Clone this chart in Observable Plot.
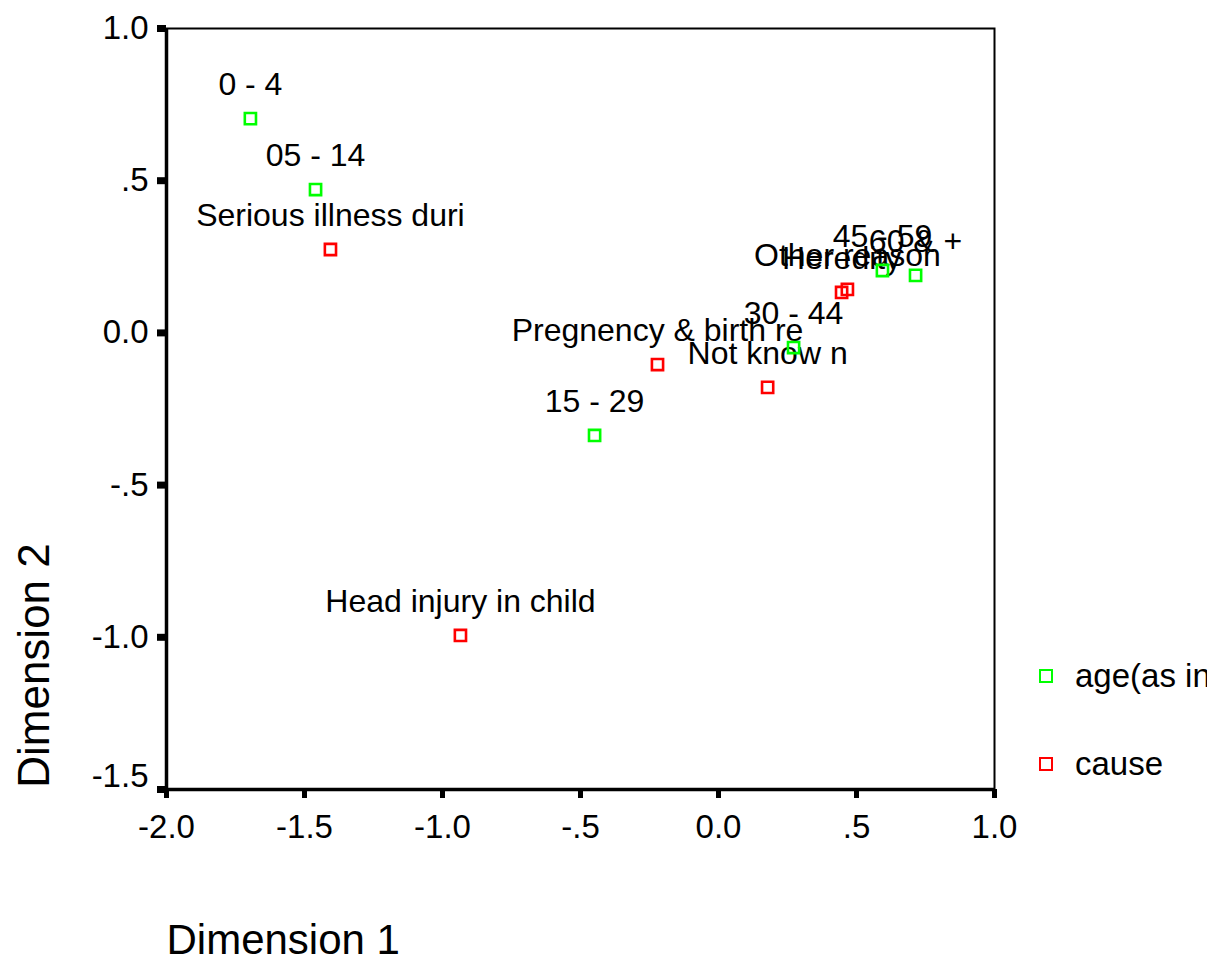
<!DOCTYPE html>
<html>
<head>
<meta charset="utf-8">
<script src="https://cdn.jsdelivr.net/npm/d3@7"></script>
<script src="https://cdn.jsdelivr.net/npm/@observablehq/plot@0.6"></script>
<style>
  html, body { margin: 0; padding: 0; background: #fff; overflow: hidden; }
  #wrap { position: relative; width: 1207px; height: 973px; overflow: hidden; font-family: "Liberation Sans", Arial, sans-serif; }
  .leg { position: absolute; left: 1039px; display: flex; align-items: center; font-size: 33px; color: #000; white-space: nowrap; }
  .sw { width: 10px; height: 10px; border: 2.5px solid; margin-right: 22px; }
</style>
</head>
<body>
<div id="wrap"></div>
<script>
const ageLabels = ["0 - 4", "05 - 14", "15 - 29", "30 - 44", "45 - 59", "60 & +"];
const ageDim1 = [-1.696, -1.46, -0.449, 0.272, 0.594, 0.714];
const ageDim2 = [0.704, 0.471, -0.337, -0.048, 0.205, 0.189];

const causeLabels = ["Serious illness duri", "Pregnency & birth re", "Not know n", "Head injury in child", "Other reason", "Heredity"];
const causeDim1 = [-1.406, -0.221, 0.178, -0.935, 0.467, 0.446];
const causeDim2 = [0.274, -0.104, -0.179, -0.994, 0.143, 0.133];

const xTicks = [-2, -1.5, -1, -0.5, 0, 0.5, 1];
const xTickLabels = ["-2.0", "-1.5", "-1.0", "-.5", "0.0", ".5", "1.0"];
const yTicks = [-1.5, -1, -0.5, 0, 0.5, 1];
const yTickLabels = ["-1.5", "-1.0", "-.5", "0.0", ".5", "1.0"];

const seriesNames = ["age(as in years)", "cause"];
const seriesColors = ["#00ff00", "#ff0000"];

const points = [
  ...ageLabels.map((l, i) => ({label: l, d1: ageDim1[i], d2: ageDim2[i], series: seriesNames[0]})),
  ...causeLabels.map((l, i) => ({label: l, d1: causeDim1[i], d2: causeDim2[i], series: seriesNames[1]}))
];

const font = "Liberation Sans, Arial, sans-serif";
const yLabel = (d) => yTickLabels[yTicks.indexOf(d)];
const yMin = yTicks[0];

const chart = Plot.plot({
  width: 1207,
  height: 973,
  marginLeft: 166,
  marginRight: 213,
  marginTop: 28,
  marginBottom: 184,
  style: {fontFamily: font, background: "#fff", overflow: "visible"},
  x: {domain: [-2, 1]},
  y: {domain: [-1.5, 1]},
  color: {domain: seriesNames, range: seriesColors},
  marks: [
    Plot.frame({stroke: "#000", strokeWidth: 2}),
    Plot.ruleX([-2], {stroke: "#000", strokeWidth: 3.5}),
    Plot.ruleY([-1.5], {stroke: "#000", strokeWidth: 3.5}),
    Plot.axisX({
      ticks: xTicks,
      tickFormat: (d) => xTickLabels[xTicks.indexOf(d)],
      tickSize: 9,
      tickPadding: 16,
      strokeWidth: 5,
      fontSize: 33,
      label: null
    }),
    Plot.axisY({
      ticks: yTicks,
      tickFormat: (d) => (d === yMin ? "" : yLabel(d)),
      tickSize: 9,
      tickPadding: 9,
      strokeWidth: 7,
      fontSize: 33,
      label: null
    }),
    Plot.axisY({
      ticks: [yMin],
      tickFormat: yLabel,
      tickSize: 0,
      tickPadding: 18,
      dy: -13,
      fontSize: 33,
      label: null
    }),
    Plot.text(points, {x: "d1", y: "d2", text: "label", dy: -34, fontSize: 32, fill: "#000"}),
    Plot.dot(points, {x: "d1", y: "d2", symbol: "square", r: 6.3, stroke: "series", strokeWidth: 2.6, fill: "none"}),
    Plot.text(["Dimension 1"], {frameAnchor: "bottom-left", dy: 151, textAnchor: "start", lineAnchor: "middle", fontSize: 42, fill: "#000"}),
    Plot.text(["Dimension 2"], {frameAnchor: "bottom-left", dx: -132, dy: -124, rotate: -90, textAnchor: "middle", lineAnchor: "middle", fontSize: 44, fill: "#000"})
  ]
});

const wrap = document.getElementById("wrap");
wrap.appendChild(chart);
[[seriesNames[0], seriesColors[0], 676], [seriesNames[1], seriesColors[1], 764]].forEach(([name, col, cy]) => {
  const d = document.createElement("div");
  d.className = "leg";
  d.style.top = (cy - 20) + "px";
  d.style.height = "40px";
  const sw = document.createElement("span");
  sw.className = "sw";
  sw.style.borderColor = col;
  const t = document.createElement("span");
  t.textContent = name;
  d.appendChild(sw);
  d.appendChild(t);
  wrap.appendChild(d);
});
</script>
</body>
</html>
